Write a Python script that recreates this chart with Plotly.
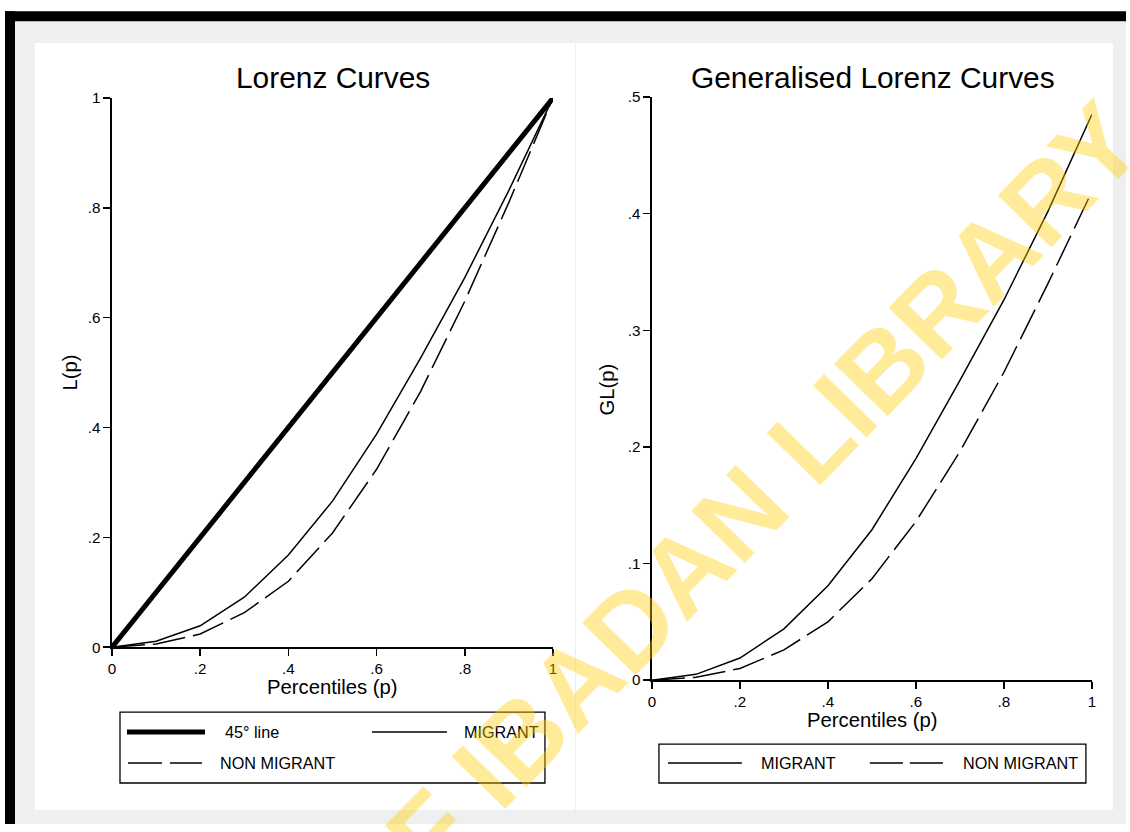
import plotly.graph_objects as go

# ---------------- data ----------------
percentiles = [0, 0.1, 0.2, 0.3, 0.4, 0.5, 0.6, 0.7, 0.8, 0.9, 1.0]
line45 = [0, 1]
lorenz_migrant = [0, 0.011, 0.039, 0.091, 0.168, 0.266, 0.388, 0.527, 0.673, 0.832, 1.0]
lorenz_nonmigrant = [0, 0.006, 0.024, 0.063, 0.120, 0.208, 0.324, 0.466, 0.630, 0.810, 1.0]
glorenz_migrant = [0, 0.005, 0.019, 0.044, 0.081, 0.129, 0.190, 0.257, 0.326, 0.402, 0.485]
glorenz_nonmigrant = [0, 0.0025, 0.010, 0.026, 0.050, 0.087, 0.136, 0.196, 0.264, 0.340, 0.419]

x_ticks = [0, 0.2, 0.4, 0.6, 0.8, 1]
x_ticktext = ["0", ".2", ".4", ".6", ".8", "1"]
l_ticks = [0, 0.2, 0.4, 0.6, 0.8, 1]
l_ticktext = ["0", ".2", ".4", ".6", ".8", "1"]
gl_ticks = [0, 0.1, 0.2, 0.3, 0.4, 0.5]
gl_ticktext = ["0", ".1", ".2", ".3", ".4", ".5"]

# ---------------- geometry helpers ----------------
W, H = 1130, 832
FONT = "Liberation Sans, Arial, sans-serif"
# positions below are given in target-picture pixels; these constants map
# them onto the page so that the photographed page lines up with them
OX, SX = 4.0, 0.993
OY, SY = 7.85, 0.981
S = 1 / 0.987  # size compensation


def X(px):
    return ((px - OX) / SX) / W


def Y(py):
    return 1 - ((py - OY) / SY) / H


def fs(v):
    return round(v * S, 2)


DASH = "33px,8px"

fig = go.Figure()

fig.add_trace(go.Scatter(x=line45, y=line45, mode="lines", name="45° line",
                         line=dict(color="black", width=5), xaxis="x", yaxis="y",
                         showlegend=False))
fig.add_trace(go.Scatter(x=percentiles, y=lorenz_migrant, mode="lines", name="MIGRANT",
                         line=dict(color="black", width=1.5), xaxis="x", yaxis="y",
                         showlegend=False))
fig.add_trace(go.Scatter(x=percentiles, y=lorenz_nonmigrant, mode="lines", name="NON MIGRANT",
                         line=dict(color="black", width=1.5, dash=DASH), xaxis="x", yaxis="y",
                         showlegend=False))
fig.add_trace(go.Scatter(x=percentiles, y=glorenz_migrant, mode="lines", name="MIGRANT",
                         line=dict(color="black", width=1.5), xaxis="x2", yaxis="y2",
                         showlegend=False))
fig.add_trace(go.Scatter(x=percentiles, y=glorenz_nonmigrant, mode="lines", name="NON MIGRANT",
                         line=dict(color="black", width=1.5, dash=DASH), xaxis="x2", yaxis="y2",
                         showlegend=False))

axis_common = dict(showline=True, linecolor="black", linewidth=1.5, ticks="outside",
                   ticklen=7, tickwidth=1.5, tickcolor="black", showgrid=False,
                   zeroline=False, tickfont=dict(family=FONT, size=fs(15), color="black"))

fig.update_layout(
    width=W, height=H,
    margin=dict(l=0, r=0, t=0, b=0),
    paper_bgcolor="white",
    plot_bgcolor="rgba(0,0,0,0)",
    showlegend=False,
    hovermode=False,
    xaxis=dict(domain=[X(112), X(553)], range=[0, 1], anchor="y",
               tickvals=x_ticks, ticktext=x_ticktext, **axis_common),
    yaxis=dict(domain=[Y(647), Y(97)], range=[0, 1], anchor="x",
               tickvals=l_ticks, ticktext=l_ticktext, **axis_common),
    xaxis2=dict(domain=[X(652), X(1092)], range=[0, 1], anchor="y2",
                tickvals=x_ticks, ticktext=x_ticktext, **axis_common),
    yaxis2=dict(domain=[Y(680), Y(96)], range=[0, 0.5], anchor="x2",
                tickvals=gl_ticks, ticktext=gl_ticktext, **axis_common),
)

shapes = []


def rect(x0, y0, x1, y1, fill, layer="below", line=None):
    d = dict(type="rect", xref="paper", yref="paper", x0=max(X(x0), 0), x1=min(X(x1), 1),
             y0=min(Y(y0), 1), y1=max(Y(y1), 0), fillcolor=fill, layer=layer)
    d["line"] = line if line else dict(width=0)
    shapes.append(d)


# page frame
rect(15, 20, 1140, 845, "#efefef")
rect(5, 10, 1140, 20, "black")
rect(5, 10, 15, 845, "black")
# white panels
rect(35, 42, 575, 810, "white")
rect(576, 42, 1113, 810, "white")

# legend boxes
rect(120, 712, 545, 783, "rgba(0,0,0,0)", layer="above", line=dict(color="black", width=1.3))
rect(659, 744, 1086, 783, "rgba(0,0,0,0)", layer="above", line=dict(color="black", width=1.3))


def seg(x0, x1, y, width, dash=None):
    ln = dict(color="black", width=width)
    if dash:
        ln["dash"] = dash
    shapes.append(dict(type="line", xref="paper", yref="paper", x0=X(x0), x1=X(x1),
                       y0=Y(y), y1=Y(y), line=ln, layer="above"))


seg(127, 205, 732, 5)
seg(372, 447, 732, 1.5)
seg(128, 202, 763, 1.5, "34px,8px")
seg(668, 742, 763, 1.5)
seg(870, 943, 763, 1.5, "33px,7px")

fig.update_layout(shapes=shapes)

ann = []


def text(t, x, y, size, xanchor="center", angle=0, color="black", bold=False):
    f = dict(family=FONT, size=fs(size), color=color)
    if bold:
        f["weight"] = "bold"
    ann.append(dict(text=t, x=X(x), y=Y(y), xref="paper", yref="paper", showarrow=False,
                    xanchor=xanchor, yanchor="middle", textangle=angle, font=f))


text("Lorenz Curves", 333, 76, 29.5)
text("Generalised Lorenz Curves", 873, 76, 29.5)
text("Percentiles (p)", 333, 687, 20)
text("Percentiles (p)", 873, 720, 20)
text("L(p)", 70, 372, 20, angle=-90)
text("GL(p)", 607, 389, 20, angle=-90)

# legend labels
text("45° line", 223, 732, 16, xanchor="left")
text("MIGRANT", 462, 732, 16, xanchor="left")
text("NON MIGRANT", 218, 763, 16, xanchor="left")
text("MIGRANT", 759, 763, 16, xanchor="left")
text("NON MIGRANT", 961, 763, 16, xanchor="left")

# watermark
text("UNIVERSITY OF IBADAN LIBRARY", 498, 762, 107, angle=-45.8,
     color="rgba(255,204,0,0.4)", bold=True)

fig.update_layout(annotations=ann)

fig.write_html(
    "out.html",
    config={"displayModeBar": False, "staticPlot": True},
    post_script="document.body.style.margin='0';document.body.style.overflow='hidden';",
)
